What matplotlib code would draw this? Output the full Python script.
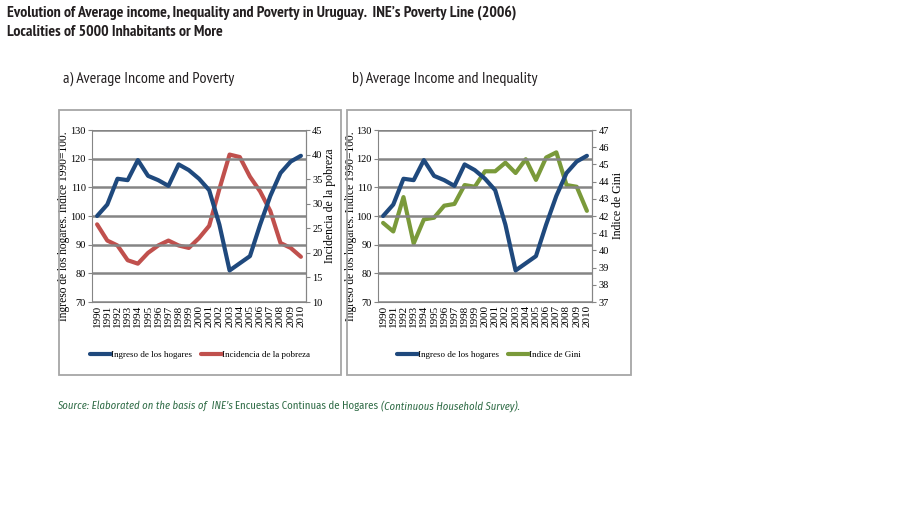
import matplotlib
matplotlib.use("Agg")
import matplotlib.pyplot as plt
from matplotlib.patches import Rectangle

years = [str(y) for y in range(1990, 2011)]
ingreso = [100, 104, 113, 112.5, 119.5, 114, 112.5, 110.5, 118, 116, 113,
           109, 97, 81, 83.5, 86, 97, 107, 115, 119, 121]
pobreza = [25.8, 22.5, 21.5, 18.5, 17.8, 20, 21.5, 22.5, 21.5, 21, 23,
           25.5, 33, 40, 39.5, 35.5, 32.5, 28.5, 22, 21, 19.2]
gini = [41.6, 41.1, 43.1, 40.4, 41.8, 41.9, 42.6, 42.7, 43.8, 43.7, 44.6,
        44.6, 45.1, 44.5, 45.3, 44.1, 45.4, 45.7, 43.8, 43.7, 42.3]

BLUE = "#1F497D"
RED = "#C0504D"
GREEN = "#7A9A3A"
GRID = "#858585"
SERIF = ["Liberation Serif", "DejaVu Serif"]
NARROW = ["PT Sans Narrow", "DejaVu Sans"]
SRCFONT = ["Fira Sans Condensed", "PT Sans Narrow", "DejaVu Sans"]

W, H = 924, 519
fig = plt.figure(figsize=(W / 100, H / 100), dpi=100)


def px(x, y, w, h):
    # pixel box (top-left origin) -> figure fraction
    return [x / W, 1 - (y + h) / H, w / W, h / H]


def panel(x0, box_w, ax_x, right_vals, right_lim, right_ticks, right_color,
          right_label, left_lab_x, right_lab_x):
    fig.patches.append(Rectangle((x0 / W, 1 - 375 / H), box_w / W, (375 - 110) / H,
                                 transform=fig.transFigure, fill=False,
                                 edgecolor="#A6A6A6", lw=1.3))
    ax_w = 214
    ax = fig.add_axes(px(ax_x, 130, ax_w, 172))
    xs = range(len(years))
    ax.set_xlim(-0.5, len(years) - 0.5)
    ax.set_ylim(70, 130)
    ax.set_yticks(range(70, 131, 10))
    ax.yaxis.grid(True, color=GRID, lw=1.8)
    ax.set_axisbelow(True)
    ax.spines["top"].set_visible(False)
    for s in ["left", "right", "bottom"]:
        ax.spines[s].set_color(GRID)
    ax.set_xticks(list(xs))
    ax.set_xticklabels(years, rotation=90, fontsize=8, family=SERIF)
    ax.tick_params(axis="x", length=0, pad=2)
    ax.tick_params(axis="y", labelsize=7.5, length=3, color=GRID, pad=1.5)
    for t in ax.get_yticklabels():
        t.set_family(SERIF)
    ax.set_ylabel("Ingreso de los hogares. Indice 1990=100.", family=SERIF,
                  fontsize=8.3)
    ax.yaxis.set_label_coords((left_lab_x - ax_x) / ax_w, 0.44)
    l1, = ax.plot(xs, ingreso, color=BLUE, lw=3, solid_joinstyle="round",
                  solid_capstyle="round", zorder=4)

    ax2 = ax.twinx()
    ax2.set_ylim(*right_lim)
    ax2.set_yticks(right_ticks)
    ax2.tick_params(axis="y", labelsize=7.5, length=3, color=GRID, pad=1.5)
    for t in ax2.get_yticklabels():
        t.set_family(SERIF)
    for s in ["top", "left", "bottom"]:
        ax2.spines[s].set_visible(False)
    ax2.spines["right"].set_color(GRID)
    ax2.set_ylabel(right_label, family=SERIF, fontsize=8.5)
    ax2.yaxis.set_label_coords((right_lab_x - ax_x) / ax_w, 0.56)
    l2, = ax2.plot(xs, right_vals, color=right_color, lw=3,
                   solid_joinstyle="round", solid_capstyle="round", zorder=3)
    ax.set_zorder(ax2.get_zorder() + 1)
    ax.patch.set_visible(False)

    fig.legend([l1, l2], ["Ingreso de los hogares", right_label],
               loc="center", bbox_to_anchor=((x0 + box_w / 2) / W, 1 - 355 / H),
               ncol=2, frameon=False, handlelength=2.3, handletextpad=0.0,
               columnspacing=1.0, prop={"family": SERIF, "size": 6.5})
    return ax


panel(59, 282, 92, pobreza, (10, 45), range(10, 46, 5), RED,
      "Incidencia de la pobreza", 70.5, 324.5)
panel(347, 284, 378, gini, (37, 47), range(37, 48), GREEN,
      "Indice de Gini", 357, 612)

fig.text(7 / W, 1 - 13 / H,
         "Evolution of Average income, Inequality and Poverty in Uruguay.  INE\u2019s Poverty Line (2006)",
         family=NARROW, weight="bold", fontsize=11.4, va="center", color="#231F20")
fig.text(7 / W, 1 - 32 / H, "Localities of 5000 Inhabitants or More",
         family=NARROW, weight="bold", fontsize=11.4, va="center", color="#231F20")
fig.text(63 / W, 1 - 79 / H, "a) Average Income and Poverty",
         family=NARROW, fontsize=11.5, va="center", color="#231F20")
fig.text(352 / W, 1 - 79 / H, "b) Average Income and Inequality",
         family=NARROW, fontsize=11.5, va="center", color="#231F20")

# source line: italic / regular / italic pieces placed side by side
SRC = "#2E6B45"
pieces = [("Source: Elaborated on the basis of  INE\u2019s ", "italic"),
          ("Encuestas Continuas de Hogares ", "normal"),
          ("(Continuous Household Survey).", "italic")]
renderer = fig.canvas.get_renderer()
x = 57
for txt, st in pieces:
    t = fig.text(x / W, 1 - 406 / H, txt, family=SRCFONT, style=st,
                 fontsize=7.7, va="center", color=SRC)
    x += t.get_window_extent(renderer).width

fig.savefig("out.png", dpi=100)
